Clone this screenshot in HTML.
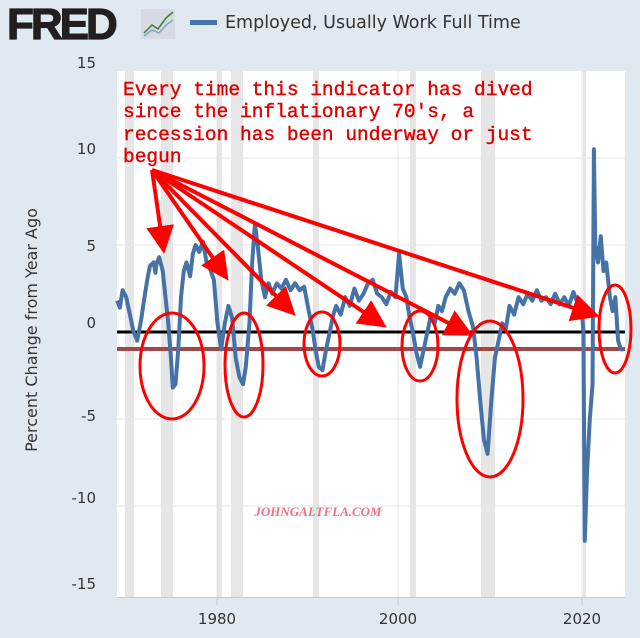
<!DOCTYPE html>
<html><head><meta charset="utf-8"><style>
html,body{margin:0;padding:0;background:#e1e9f0;}
body{width:640px;height:638px;position:relative;overflow:hidden;font-family:"DejaVu Sans","Liberation Sans",sans-serif;}
</style></head><body>
<svg width="640" height="638" viewBox="0 0 640 638" xmlns="http://www.w3.org/2000/svg" style="position:absolute;left:0;top:0">
<rect width="640" height="638" fill="#e1e9f0"/>
<!-- header -->
<text x="7" y="39" font-family="Liberation Sans,sans-serif" font-weight="bold" font-size="44" fill="#231f20" letter-spacing="-3" stroke="#231f20" stroke-width="1.2">FRED</text>
<rect x="141" y="9" width="34" height="30" fill="#d5dbe0"/>
<polyline points="144,33 152,25 158,29 166,18 173,12" fill="none" stroke="#3e7b3e" stroke-width="1.5"/>
<polyline points="144,36 152,30 159,33 166,25 173,20" fill="none" stroke="#8aa0c0" stroke-width="1.5"/>
<rect x="190" y="20" width="27" height="5" fill="#4572a7"/>
<text x="225" y="28" font-size="17.5" fill="#333">Employed, Usually Work Full Time</text>
<!-- plot area -->
<rect x="117" y="71" width="508" height="526" fill="#fff"/>
<g fill="#e6e6e6">
<rect x="125" y="71" width="9" height="526"/>
<rect x="161" y="71" width="12" height="526"/>
<rect x="217" y="71" width="5" height="526"/>
<rect x="231" y="71" width="12" height="526"/>
<rect x="313" y="71" width="6" height="526"/>
<rect x="410" y="71" width="6" height="526"/>
<rect x="481" y="71" width="14" height="526"/>
<rect x="583" y="71" width="3" height="526"/>
</g>
<g stroke="#e6e6e6" stroke-width="1">
<line x1="117" x2="625" y1="158" y2="158"/>
<line x1="117" x2="625" y1="245" y2="245"/>
<line x1="117" x2="625" y1="419" y2="419"/>
<line x1="117" x2="625" y1="506" y2="506"/>
<line x1="217" x2="217" y1="71" y2="597"/>
<line x1="398" x2="398" y1="71" y2="597"/>
<line x1="582" x2="582" y1="71" y2="597"/>
</g>
<line x1="117" x2="625" y1="597.5" y2="597.5" stroke="#c0cad6"/>
<g stroke="#c0cad6"><line x1="217" x2="217" y1="597" y2="605"/><line x1="398" x2="398" y1="597" y2="605"/><line x1="582" x2="582" y1="597" y2="605"/></g>
<g font-size="15" fill="#333" text-anchor="end">
<text x="96" y="68">15</text><text x="96" y="154">10</text><text x="96" y="251">5</text>
<text x="96" y="328">0</text><text x="96" y="421">-5</text><text x="96" y="503">-10</text><text x="96" y="589">-15</text>
</g>
<g font-size="15" fill="#333" text-anchor="middle">
<text x="217" y="624">1980</text><text x="398" y="624">2000</text><text x="582" y="624">2020</text>
</g>
<text transform="translate(37,330) rotate(-90)" font-size="16" fill="#333" text-anchor="middle">Percent Change from Year Ago</text>
<!-- lines -->
<line x1="117" x2="625" y1="349" y2="349" stroke="#a04848" stroke-width="4"/>
<line x1="117" x2="625" y1="332" y2="332" stroke="#000" stroke-width="3"/>
<!-- series -->
<g transform="translate(-17850,332) scale(9.125,-17.4)">
<polyline fill="none" stroke="#4572a7" stroke-width="4" vector-effect="non-scaling-stroke" stroke-linejoin="round" points="
1969,1.8 1969.3,1.4 1969.6,2.4 1970,2 1970.4,1 1970.8,0 1971.2,-0.5 1971.6,0.6 1972,2 1972.3,3 1972.6,3.8 1973,4 1973.2,3.4 1973.3,3.9 1973.6,4.3 1974,3.5 1974.3,2 1974.6,0.5 1974.9,-1.5 1975.1,-3.2 1975.4,-3 1975.7,-1 1976,2 1976.3,3.5 1976.6,4 1977,3.2 1977.3,4.5 1977.6,5 1978,4.6 1978.4,5.2 1978.8,4 1979.2,3.6 1979.6,3 1980,0.5 1980.4,-1 1980.8,0.5 1981.2,1.5 1981.6,0.8 1982,-1.5 1982.4,-2.6 1982.8,-3 1983.1,-2 1983.5,0.5 1983.8,4 1984.1,6.2 1984.4,5 1984.8,3 1985.2,2 1985.6,2.8 1986,2.2 1986.5,2.8 1987,2.5 1987.5,3 1988,2.4 1988.5,2.8 1989,2.4 1989.5,2.6 1990,1.2 1990.4,0.2 1990.8,-1.2 1991.1,-2 1991.5,-2.2 1991.9,-1 1992.3,0 1992.7,1 1993,1.5 1993.5,1 1994,2 1994.5,1.5 1995,2.5 1995.5,1.8 1996,2.2 1996.5,2.8 1997,3 1997.5,2.2 1998,2 1998.5,1.6 1999,2.3 1999.5,2 1999.9,4.5 2000.3,2.5 2000.7,2 2001,1 2001.4,0 2001.8,-1.2 2002.2,-2 2002.6,-1 2003,0 2003.4,1 2003.8,0.5 2004.2,1.5 2004.6,1.2 2005,2 2005.5,2.5 2006,2.2 2006.5,2.8 2007,2.4 2007.5,1.2 2008,0.3 2008.4,-1.5 2008.8,-4 2009.2,-6.2 2009.6,-7 2010,-4 2010.4,-1.5 2010.8,-0.5 2011.2,0.5 2011.6,0.2 2012,1.5 2012.5,1 2013,2 2013.5,1.6 2014,2.2 2014.5,1.8 2015,2.4 2015.5,1.8 2016,2 2016.5,1.6 2017,2.2 2017.5,1.6 2018,2 2018.5,1.5 2019,2.3 2019.5,1.6 2019.9,1.5 2020.1,0 2020.25,-12 2020.5,-8 2020.8,-5 2021.1,-3 2021.25,10.5 2021.4,5 2021.7,4 2022,5.5 2022.3,3.5 2022.6,4 2023,2 2023.3,1.2 2023.6,2 2023.9,-0.5 2024.2,-1 2024.5,-1"/>
</g>
<!-- annotation -->
<g font-family="Liberation Mono,monospace" font-size="19.5" fill="#e00000" stroke="#e00000" stroke-width="0.4">
<text x="123" y="95">Every time this indicator has dived</text>
<text x="123" y="117">since the inflationary 70's, a</text>
<text x="123" y="140">recession has been underway or just</text>
<text x="123" y="162">begun</text>
</g>
<defs><marker id="ah" markerWidth="7" markerHeight="7" refX="5" refY="3.5" orient="auto" markerUnits="strokeWidth"><path d="M0,0 L7,3.5 L0,7 z" fill="#f00"/></marker></defs>
<g stroke="#f00" stroke-width="4" fill="none" marker-end="url(#ah)">
<line x1="152" y1="170" x2="163" y2="246"/>
<line x1="152" y1="170" x2="224" y2="274"/>
<line x1="152" y1="170" x2="290" y2="310"/>
<line x1="152" y1="170" x2="380" y2="323"/>
<line x1="152" y1="170" x2="466" y2="332"/>
<line x1="152" y1="170" x2="592" y2="314"/>
</g>
<g stroke="#f00" stroke-width="3" fill="none">
<ellipse cx="172" cy="366" rx="32" ry="53"/>
<ellipse cx="244" cy="365" rx="19" ry="52"/>
<ellipse cx="322" cy="344" rx="18" ry="32"/>
<ellipse cx="420" cy="346" rx="18" ry="35"/>
<ellipse cx="490" cy="399" rx="33" ry="78"/>
<ellipse cx="615" cy="329" rx="16" ry="44"/>
</g>
<text x="318" y="516" font-family="Liberation Serif,serif" font-style="italic" font-weight="bold" font-size="13" fill="#f07080" text-anchor="middle">JOHNGALTFLA.COM</text>
</svg>
</body></html>
